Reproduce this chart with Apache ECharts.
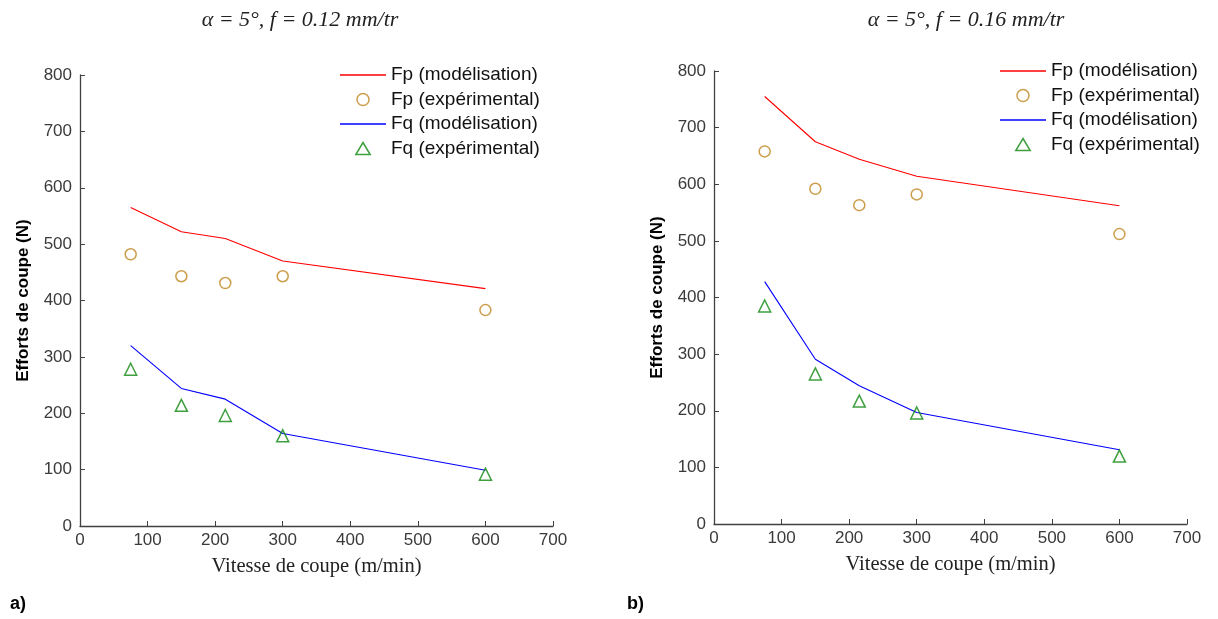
<!DOCTYPE html>
<html>
<head>
<meta charset="utf-8">
<script src="https://cdn.jsdelivr.net/npm/echarts@6/dist/echarts.min.js"></script>
<style>
html,body{margin:0;padding:0;background:#fff;}
#chart{width:1218px;height:619px;}
</style>
</head>
<body>
<div id="chart"></div>
<script>
// ---- data ----
const speeds = [75, 150, 215, 300, 600];
const fpModelA = [565, 522, 510, 470, 421];
const fpExpA   = [482, 443, 431, 443, 383];
const fqModelA = [320, 244, 225, 164, 99];
const fqExpA   = [278, 214, 196, 160, 92];
const fpModelB = [755, 675, 644, 614, 562];
const fpExpB   = [658, 592, 563, 582, 512];
const fqModelB = [428, 291, 244, 197, 131];
const fqExpB   = [385, 265, 217, 196, 120];
const titles = ['α = 5°, f = 0.12 mm/tr', 'α = 5°, f = 0.16 mm/tr'];
const panelLabels = ['a)', 'b)'];
const seriesNames = ['Fp (modélisation)', 'Fp (expérimental)', 'Fq (modélisation)', 'Fq (expérimental)'];
const xAxisName = 'Vitesse de coupe (m/min)';
const yAxisName = 'Efforts de coupe (N)';

// ---- helpers ----
const pairs = (vals) => speeds.map((s, i) => [s, vals[i]]);
const RED = '#ff0000', BLUE = '#0000ff', GOLD = '#bf861e', GREEN = '#0f870f';
const AXC = '#404040';
const LINE_ICON = 'path://M0,0 H46 V1.3 H0 Z';
const TRI_ICON = 'path://M6,0 L12,10 L0,10 Z';

function lineSeries(name, vals, color, idx) {
  return { name, type: 'line', xAxisIndex: idx, yAxisIndex: idx, data: pairs(vals),
    symbol: 'none', lineStyle: { color, width: 1.1 }, itemStyle: { color }, silent: true, z: 2 };
}
function scatterSeries(name, vals, color, symbol, size, idx) {
  return { name, type: 'scatter', xAxisIndex: idx, yAxisIndex: idx, data: pairs(vals),
    symbol, symbolSize: size,
    itemStyle: { color: 'rgba(0,0,0,0)', borderColor: color, borderWidth: 1.5 }, silent: true, z: 3 };
}
function xAxis(idx) {
  return { type: 'value', gridIndex: idx, min: 0, max: 700, interval: 100,
    name: xAxisName, nameLocation: 'middle', nameGap: 30,
    nameTextStyle: { fontFamily: 'Liberation Serif', fontSize: 20.5, color: '#222' },
    axisLine: { show: true, lineStyle: { color: AXC, width: 1.3 } },
    axisTick: { show: true, inside: true, length: 5, lineStyle: { color: AXC } },
    axisLabel: { fontFamily: 'Liberation Sans', fontSize: 17, color: '#3a3a3a', margin: 6 },
    splitLine: { show: false } };
}
function yAxis(idx) {
  return { type: 'value', gridIndex: idx, min: 0, max: 800, interval: 100,
    name: yAxisName, nameLocation: 'middle', nameGap: 48, nameRotate: 90,
    nameTextStyle: { fontFamily: 'Liberation Sans', fontSize: 17, fontWeight: 'bold', color: '#000' },
    axisLine: { show: true, lineStyle: { color: AXC, width: 1.3 } },
    axisTick: { show: true, inside: true, length: 5, lineStyle: { color: AXC } },
    axisLabel: { fontFamily: 'Liberation Sans', fontSize: 17, color: '#3a3a3a', margin: 8 },
    splitLine: { show: false } };
}
function legend(left, top) {
  return { orient: 'vertical', left, top, padding: 0, itemWidth: 46, itemHeight: 12, itemGap: 4.5,
    symbolKeepAspect: true,
    data: [
      { name: seriesNames[0], icon: LINE_ICON },
      { name: seriesNames[1], icon: 'circle', itemStyle: { color: 'rgba(0,0,0,0)', borderColor: GOLD, borderWidth: 1.5 } },
      { name: seriesNames[2], icon: LINE_ICON },
      { name: seriesNames[3], icon: TRI_ICON, itemStyle: { color: 'rgba(0,0,0,0)', borderColor: GREEN, borderWidth: 1.5 } }
    ],
    textStyle: { fontFamily: 'Liberation Sans', fontSize: 19, color: '#111', lineHeight: 20 },
    selectedMode: false };
}

const chart = echarts.init(document.getElementById('chart'), null, { renderer: 'canvas' });
chart.setOption({
  animation: false,
  backgroundColor: '#fff',
  grid: [
    { left: 80, top: 75, width: 473, height: 451 },
    { left: 714, top: 71, width: 473, height: 453 }
  ],
  xAxis: [xAxis(0), xAxis(1)],
  yAxis: [yAxis(0), yAxis(1)],
  legend: [legend(340, 65), legend(1000, 61)],
  graphic: [
    { type: 'text', x: 300, y: 9, style: { text: titles[0], font: 'italic 22px "Liberation Serif"', fill: '#222', textAlign: 'center' } },
    { type: 'text', x: 966, y: 9, style: { text: titles[1], font: 'italic 22px "Liberation Serif"', fill: '#222', textAlign: 'center' } },
    { type: 'text', x: 10, y: 595, style: { text: panelLabels[0], font: 'bold 18px "Liberation Sans"', fill: '#000' } },
    { type: 'text', x: 627, y: 595, style: { text: panelLabels[1], font: 'bold 18px "Liberation Sans"', fill: '#000' } }
  ],
  series: [
    lineSeries(seriesNames[0], fpModelA, RED, 0),
    scatterSeries(seriesNames[1], fpExpA, GOLD, 'circle', 11, 0),
    lineSeries(seriesNames[2], fqModelA, BLUE, 0),
    scatterSeries(seriesNames[3], fqExpA, GREEN, 'triangle', 12, 0),
    lineSeries(seriesNames[0], fpModelB, RED, 1),
    scatterSeries(seriesNames[1], fpExpB, GOLD, 'circle', 11, 1),
    lineSeries(seriesNames[2], fqModelB, BLUE, 1),
    scatterSeries(seriesNames[3], fqExpB, GREEN, 'triangle', 12, 1)
  ]
});
</script>
</body>
</html>
